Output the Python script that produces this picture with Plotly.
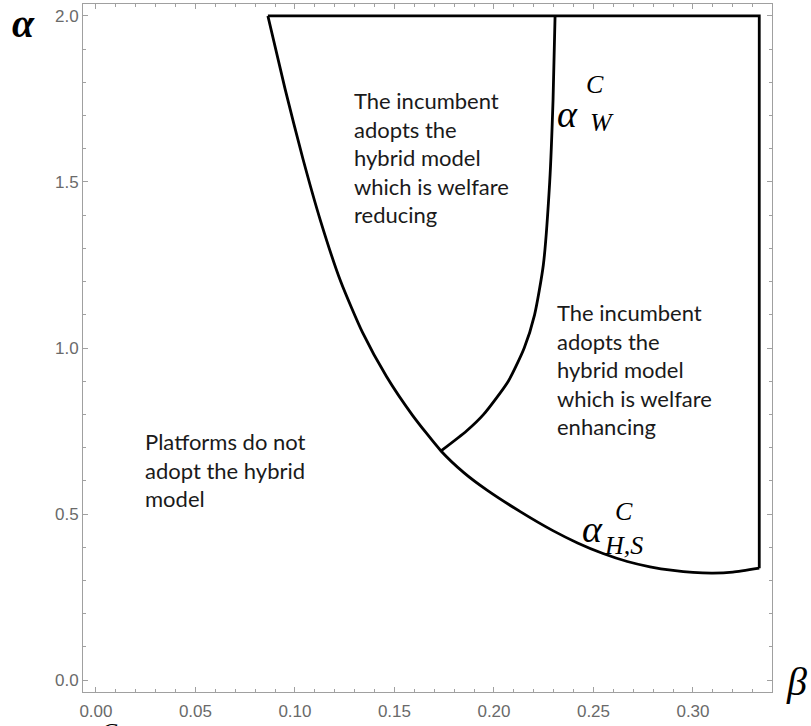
import plotly.graph_objects as go

# alpha^C_{H,S} boundary (beta, alpha)
beta_hs = [0.0864, 0.0950, 0.1040, 0.1130, 0.1230, 0.1340, 0.1460, 0.1590, 0.1734,
           0.1850, 0.1965, 0.2130, 0.2296, 0.2420, 0.2548, 0.2670, 0.2784, 0.2900,
           0.3000, 0.3100, 0.3200, 0.3333]
alpha_hs = [2.000, 1.781, 1.570, 1.380, 1.200, 1.046, 0.914, 0.798, 0.690,
            0.624, 0.572, 0.508, 0.450, 0.413, 0.381, 0.357, 0.341, 0.330,
            0.324, 0.322, 0.325, 0.337]

# alpha^C_W boundary
beta_w = [0.1734, 0.1862, 0.1948, 0.2072, 0.2152, 0.2204, 0.2248, 0.2280, 0.2297, 0.2307]
alpha_w = [0.690, 0.750, 0.800, 0.900, 1.000, 1.100, 1.250, 1.500, 1.750, 2.000]

# top and right edges of the region
beta_edge = [0.0864, 0.3333, 0.3333]
alpha_edge = [2.0, 2.0, 0.337]

x_ticks = [0.00, 0.05, 0.10, 0.15, 0.20, 0.25, 0.30]
y_ticks = [0.0, 0.5, 1.0, 1.5, 2.0]

fig = go.Figure()
curve = dict(color="black", width=2.8, shape="spline", smoothing=0.6)
fig.add_trace(go.Scatter(x=beta_hs, y=alpha_hs, mode="lines", line=curve))
fig.add_trace(go.Scatter(x=beta_w, y=alpha_w, mode="lines", line=curve))
fig.add_trace(go.Scatter(x=beta_edge, y=alpha_edge, mode="lines",
                         line=dict(color="black", width=2.8)))

axcol = "#a0a0a0"
tickfont = dict(family="Liberation Sans", size=17, color="#6a6a6a")
fig.update_xaxes(range=[-0.0065, 0.3397], tickvals=x_ticks, tickformat=".2f",
                 showline=True, linecolor=axcol, linewidth=1, mirror="allticks",
                 ticks="inside", ticklen=5, tickcolor=axcol, showgrid=False, zeroline=False,
                 tickfont=tickfont, ticklabelstandoff=4,
                 minor=dict(ticks="inside", ticklen=3, dtick=0.01, tick0=0, tickcolor=axcol, showgrid=False))
fig.update_yaxes(range=[-0.036, 2.036], tickvals=y_ticks, tickformat=".1f",
                 showline=True, linecolor=axcol, linewidth=1, mirror="allticks",
                 ticks="inside", ticklen=5, tickcolor=axcol, showgrid=False, zeroline=False,
                 tickfont=tickfont,
                 minor=dict(ticks="inside", ticklen=3, dtick=0.1, tick0=0, tickcolor=axcol, showgrid=False))

txt = dict(family="Lato", size=22, color="#1a1a1a")
anns = [
    dict(x=0.1286, y=1.575, text="The incumbent<br>adopts the<br>hybrid model<br>which is welfare<br>reducing"),
    dict(x=0.2307, y=0.934, text="The incumbent<br>adopts the<br>hybrid model<br>which is welfare<br>enhancing"),
    dict(x=0.0236, y=0.633, text="Platforms do not<br>adopt the hybrid<br>model"),
]
for a in anns:
    fig.add_annotation(x=a["x"], y=a["y"], text=a["text"], showarrow=False,
                       xanchor="left", yanchor="middle", align="left", font=txt)

serif = "Liberation Serif"
math = [
    # alpha_W^C
    dict(x=0.2367, y=1.705, text="α", size=38),
    dict(x=0.2508, y=1.795, text="C", size=26),
    dict(x=0.2543, y=1.678, text="W", size=26),
    # alpha_{H,S}^C
    dict(x=0.2497, y=0.455, text="α", size=38),
    dict(x=0.2653, y=0.509, text="C", size=26),
    dict(x=0.2653, y=0.404, text="H,S", size=26),
]
for m in math:
    fig.add_annotation(x=m["x"], y=m["y"], text=m["text"], showarrow=False,
                       xanchor="center", yanchor="middle",
                       font=dict(family=serif, size=m["size"], color="black", style="italic"))

# axis labels
fig.add_annotation(xref="paper", yref="paper", x=-0.1045, y=1.0058, yanchor="top",
                   text="α", showarrow=False, borderpad=0,
                   font=dict(family=serif, size=40, color="black", style="italic", weight="bold"))
fig.add_annotation(xref="paper", yref="paper", x=1.053, y=-0.020, text="β",
                   showarrow=False, font=dict(family=serif, size=40, color="black", style="italic"))
# cut-off glyph at bottom edge
fig.add_annotation(xref="paper", yref="paper", x=0.023, y=-0.078, text="C",
                   showarrow=False, font=dict(family=serif, size=24, color="black", style="italic"))

fig.update_layout(width=811, height=726, showlegend=False,
                  plot_bgcolor="white", paper_bgcolor="white",
                  margin=dict(l=83, r=39, t=4, b=34))
fig.write_html("out.html", config={"displayModeBar": False},
               post_script="document.body.style.margin='0';document.body.style.overflow='hidden';")
